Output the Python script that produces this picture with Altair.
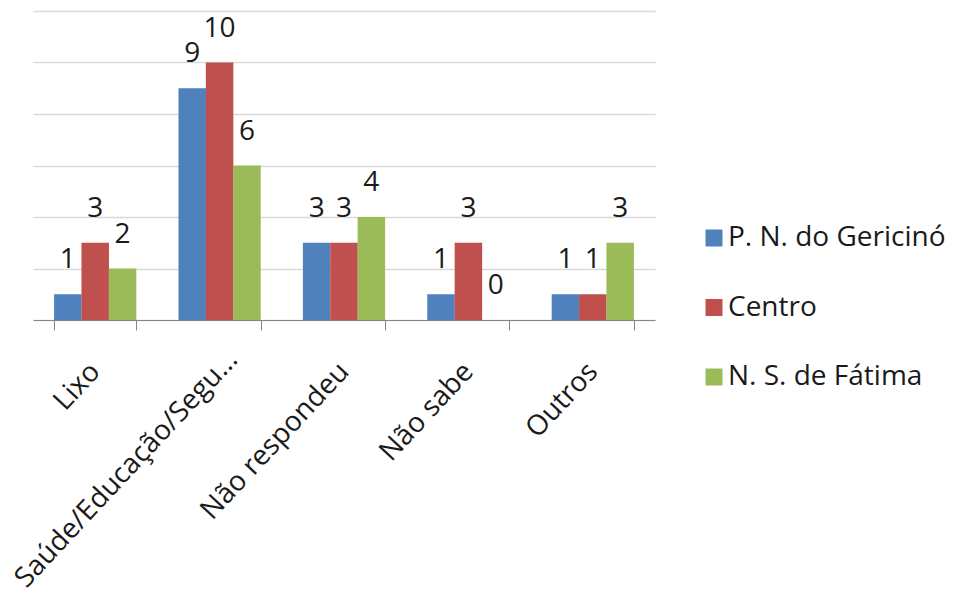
import altair as alt
import pandas as pd

# Survey answers grouped by topic, one bar per neighbourhood
categories = ["Lixo", "Saúde/Educação/Segu...", "Não respondeu", "Não sabe", "Outros"]
series = ["P. N. do Gericinó", "Centro", "N. S. de Fátima"]
gericino = [1, 9, 3, 1, 1]
centro = [3, 10, 3, 3, 1]
fatima = [2, 6, 4, 0, 3]
colors = ["#4F81BD", "#C0504D", "#9BBB59"]

rows = []
for name, vals in zip(series, [gericino, centro, fatima]):
    for cat, v in zip(categories, vals):
        rows.append({"categoria": cat, "local": name, "valor": v})
df = pd.DataFrame(rows)

FONT = "Open Sans"
TEXT = "#1a1a1a"

# the long second label sits a little higher and further right than the rest
long_label = "datum.value === '" + categories[1] + "'"

x_enc = alt.X(
    "categoria:N",
    sort=categories,
    title=None,
    scale=alt.Scale(paddingInner=0.34, paddingOuter=0.17),
    axis=alt.Axis(
        labelAngle=-47,
        labelAlign="right",
        labelBaseline="middle",
        labelFont=FONT,
        labelFontSize=28,
        labelColor=TEXT,
        labelPadding={"condition": {"test": long_label, "value": 25}, "value": 37},
        labelOffset={"condition": {"test": long_label, "value": 13}, "value": 0},
        labelLimit=0,
        labelOverlap=False,
        domainColor="#868686",
        tickColor="#868686",
        tickSize=10,
        tickBand="extent",
        grid=False,
    ),
)
x_off = alt.XOffset("local:N", sort=series, scale=alt.Scale(paddingInner=0, paddingOuter=0))
y_enc = alt.Y(
    "valor:Q",
    title=None,
    scale=alt.Scale(domain=[0, 12], nice=False),
    axis=alt.Axis(
        values=[0, 2, 4, 6, 8, 10, 12],
        labels=False,
        ticks=False,
        domain=False,
        grid=True,
        gridColor="#d9d9d9",
        gridWidth=1.5,
    ),
)

bars = alt.Chart(df).mark_bar(size=27.5).encode(
    x=x_enc,
    xOffset=x_off,
    y=y_enc,
    color=alt.Color(
        "local:N",
        sort=series,
        scale=alt.Scale(domain=series, range=colors),
        legend=alt.Legend(
            title=None,
            orient="none",
            legendX=667,
            legendY=213,
            symbolType="square",
            symbolSize=289,
            symbolStrokeWidth=0,
            labelFont=FONT,
            labelFontSize=28,
            labelColor=TEXT,
            labelOffset=0,
            labelLimit=0,
            rowPadding=41.5,
            padding=0,
        ),
    ),
)

labels = alt.Chart(df).mark_text(
    font=FONT, fontSize=28, color=TEXT, baseline="alphabetic", dy=-26
).encode(
    x=alt.X("categoria:N", sort=categories),
    xOffset=alt.XOffset("local:N", sort=series),
    y="valor:Q",
    text="valor:Q",
)

chart = (
    alt.layer(bars, labels)
    .properties(
        width=622,
        height=309,
        autosize=alt.AutoSizeParams(type="none"),
        padding={"left": 33, "top": 11, "right": 298, "bottom": 290},
    )
    .configure_view(stroke=None)
    .configure_scale(bandPaddingInner=0)
)

chart.save("out.html", embed_options={"renderer": "svg", "actions": False})
